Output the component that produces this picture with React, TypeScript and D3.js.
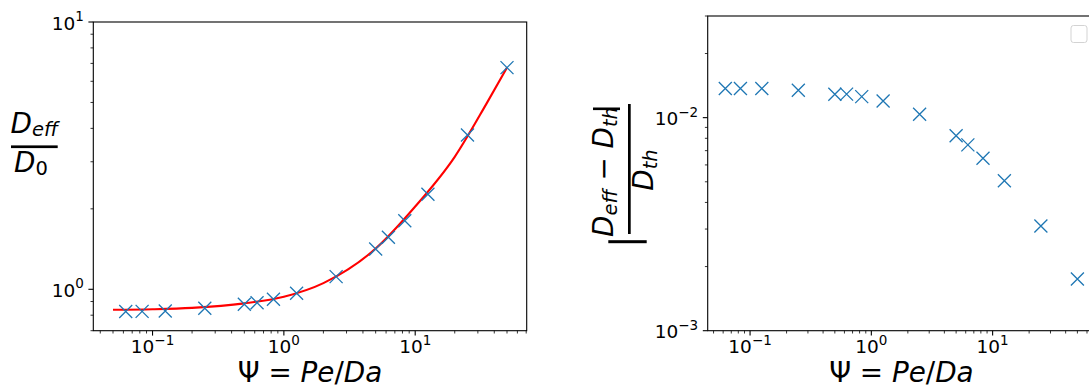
import * as d3 from "d3";

// simulated Peclet/Damkohler ratio
const psi = [0.0625, 0.0833, 0.125, 0.25, 0.5, 0.625, 0.833, 1.25, 2.5, 5, 6.25, 8.33, 12.5, 25, 50];
// D_eff / D_0
const dEffRatio = [0.826, 0.827, 0.83, 0.849, 0.879, 0.891, 0.918, 0.966, 1.115, 1.415, 1.565, 1.806, 2.267, 3.78, 6.75];
// |D_eff - D_th| / D_th
const relError = [0.0137, 0.0137, 0.0137, 0.01345, 0.01288, 0.0129, 0.01255, 0.01198, 0.01037, 0.00823, 0.00745, 0.00645, 0.00506, 0.0031, 0.00175];
// theory curve (red line)
const fitPsi = [0.05, 0.1, 0.2, 0.5, 1, 2, 5, 10, 20, 35, 50];
const fitRatio = [0.838, 0.842, 0.852, 0.886, 0.938, 1.055, 1.42, 2.04, 3.13, 4.96, 6.75];

const W = 1089;
const H = 387;
const FONT = "DejaVu Sans";
const BLUE = "#1f77b4";
const MAJOR = 4.9;
const MINOR = 2.8;

// matplotlib-style 5% margin in log space
const padLog = (lo: number, hi: number): [number, number] => {
  const a = Math.log10(lo);
  const b = Math.log10(hi);
  const m = (b - a) * 0.05;
  return [10 ** (a - m), 10 ** (b + m)];
};

const logTicks = (domain: number[]) => {
  const [lo, hi] = [Math.min(...domain), Math.max(...domain)];
  const majors: number[] = [];
  const minors: number[] = [];
  for (let k = Math.floor(Math.log10(lo)) - 1; k <= Math.ceil(Math.log10(hi)); k++) {
    for (let m = 1; m < 10; m++) {
      const v = m * 10 ** k;
      if (v < lo * 0.9999 || v > hi * 1.0001) continue;
      if (m === 1) majors.push(v);
      else minors.push(v);
    }
  }
  return { majors, minors };
};

const expLabel = (v: number) => {
  const e = Math.round(Math.log10(v));
  return e < 0 ? `\u2212${-e}` : `${e}`;
};

const Cross = ({ x, y }: { x: number; y: number }) => (
  <path
    d="M-6.5,-6.5L6.5,6.5M-6.5,6.5L6.5,-6.5"
    transform={`translate(${x},${y})`}
    stroke={BLUE}
    strokeWidth={1.3}
    fill="none"
  />
);

interface FrameProps {
  x: d3.ScaleLogarithmic<number, number>;
  y: d3.ScaleLogarithmic<number, number>;
}

const Frame = ({ x, y }: FrameProps) => {
  const [x0, x1] = x.range();
  const [y1, y0] = y.range();
  const xt = logTicks(x.domain());
  const yt = logTicks(y.domain());
  return (
    <g>
      <rect x={x0} y={y0} width={x1 - x0} height={y1 - y0} fill="none" stroke="#000" strokeWidth={1.1} />
      {xt.minors.map((v) => (
        <line key={`xm${v}`} x1={x(v)} x2={x(v)} y1={y1} y2={y1 + MINOR} stroke="#000" strokeWidth={0.8} />
      ))}
      {xt.majors.map((v) => (
        <g key={`xM${v}`}>
          <line x1={x(v)} x2={x(v)} y1={y1} y2={y1 + MAJOR} stroke="#000" strokeWidth={1.1} />
          <text x={x(v)} y={y1 + 22.5} textAnchor="middle" fontSize={18.5} fontFamily={FONT}>
            <tspan>10</tspan>
            <tspan dy={-8.5} fontSize={13.5}>{expLabel(v)}</tspan>
          </text>
        </g>
      ))}
      {yt.minors.map((v) => (
        <line key={`ym${v}`} x1={x0 - MINOR} x2={x0} y1={y(v)} y2={y(v)} stroke="#000" strokeWidth={0.8} />
      ))}
      {yt.majors.map((v) => (
        <g key={`yM${v}`}>
          <line x1={x0 - MAJOR} x2={x0} y1={y(v)} y2={y(v)} stroke="#000" strokeWidth={1.1} />
          <text x={x0 - 9.5} y={y(v) + 7.5} textAnchor="end" fontSize={18.5} fontFamily={FONT}>
            <tspan>10</tspan>
            <tspan dy={-8.5} fontSize={13.5}>{expLabel(v)}</tspan>
          </text>
        </g>
      ))}
    </g>
  );
};

const XLabel = ({ cx }: { cx: number }) => (
  <text x={cx} y={381.5} textAnchor="middle" fontSize={27.8} fontFamily={FONT}>
    <tspan>{"\u03A8 = "}</tspan>
    <tspan fontStyle="italic">Pe</tspan>
    <tspan>/</tspan>
    <tspan fontStyle="italic">Da</tspan>
  </text>
);

const App = () => {
  // left panel
  const xL = d3.scaleLog().domain(padLog(d3.min(fitPsi)!, d3.max(fitPsi)!)).range([93.3, 526.7]);
  const yL = d3.scaleLog().domain([0.7, 10]).range([330.7, 22]);
  // right panel
  const xR = d3.scaleLog().domain(padLog(d3.min(psi)!, d3.max(psi)!)).range([707.7, 1095]);
  const yR = d3.scaleLog().domain([0.001, 0.03]).range([330.7, 16]);

  const fitLine = d3
    .line<number>()
    .x((d) => xL(d))
    .y((_, i) => yL(fitRatio[i]))
    .curve(d3.curveMonotoneX)(fitPsi);

  return (
    <svg
      width={W}
      height={H}
      style={{ position: "absolute", left: 0, top: 0, background: "#fff" }}
    >
      <rect width={W} height={H} fill="#fff" />

      {/* left: D_eff / D_0 */}
      <path d={fitLine ?? ""} fill="none" stroke="red" strokeWidth={2.1} />
      {psi.map((p, i) => (
        <Cross key={`l${i}`} x={xL(p)} y={yL(dEffRatio[i])} />
      ))}
      <Frame x={xL} y={yL} />
      <XLabel cx={310} />
      <text x={34.3} y={132.7} textAnchor="middle" fontSize={27.8} fontFamily={FONT} fontStyle="italic">
        <tspan>D</tspan>
        <tspan dy={3.5} fontSize={19.5}>eff</tspan>
      </text>
      <rect x={11} y={145.4} width={46.7} height={2.7} fill="#000" />
      <text x={31} y={171.7} textAnchor="middle" fontSize={27.8} fontFamily={FONT}>
        <tspan fontStyle="italic">D</tspan>
        <tspan dy={3.5} fontSize={19.5}>0</tspan>
      </text>

      {/* right: relative error */}
      {psi.map((p, i) => (
        <Cross key={`r${i}`} x={xR(p)} y={yR(relError[i])} />
      ))}
      <Frame x={xR} y={yR} />
      <XLabel cx={901.4} />
      <rect x={1071} y={25.5} width={16} height={17} rx={2.5} fill="#fff" stroke="#d3d3d3" strokeWidth={1} />
      <text
        transform="translate(613,172) rotate(-90)"
        textAnchor="middle"
        fontSize={27.8}
        fontFamily={FONT}
        fontStyle="italic"
      >
        <tspan>D</tspan>
        <tspan dy={3.5} fontSize={19.5}>eff</tspan>
        <tspan dy={-3.5} fontStyle="normal">{" \u2212 "}</tspan>
        <tspan>D</tspan>
        <tspan dy={3.5} fontSize={19.5}>th</tspan>
      </text>
      <rect x={593} y={107.5} width={27} height={2.6} fill="#000" />
      <rect x={628} y={104} width={2.7} height={130} fill="#000" />
      <rect x={608.3} y={240.2} width={38.4} height={3} fill="#000" />
      <text
        transform="translate(653,170) rotate(-90)"
        textAnchor="middle"
        fontSize={27.8}
        fontFamily={FONT}
        fontStyle="italic"
      >
        <tspan>D</tspan>
        <tspan dy={3.5} fontSize={19.5}>th</tspan>
      </text>
    </svg>
  );
};

export default App;
